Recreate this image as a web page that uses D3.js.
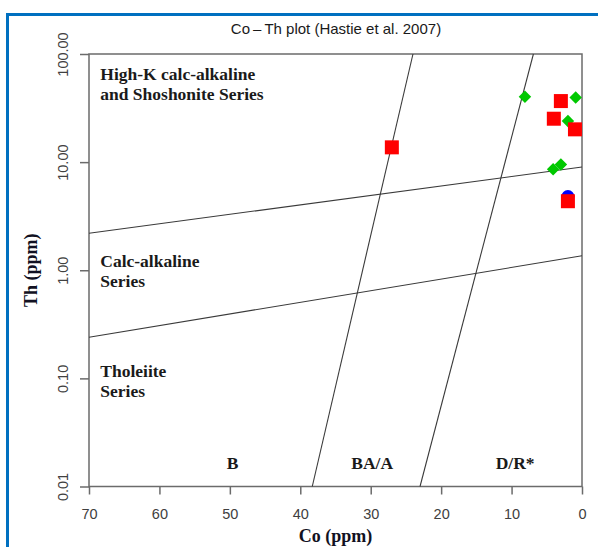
<!DOCTYPE html>
<html>
<head>
<meta charset="utf-8">
<script src="https://cdn.jsdelivr.net/npm/d3@7"></script>
<style>
  html, body { margin: 0; padding: 0; background: #fff; }
  svg { display: block; }
</style>
</head>
<body>
<svg id="chart" width="598" height="547"></svg>
<script>
// Co–Th discrimination diagram (Hastie et al. 2007)

// Axis ticks
const coTicks = [70, 60, 50, 40, 30, 20, 10, 0];
const thTicks = [0.01, 0.1, 1, 10, 100];
const thTickLabels = ["0.01", "0.10", "1.00", "10.00", "100.00"];

// Sample groups (Co ppm, Th ppm)
const redCo = [27.0, 3.0, 4.0, 1.0, 2.0];
const redTh = [13.7, 36.7, 25.2, 20.1, 4.35];
const greenCo = [8.1, 0.9, 2.0, 4.1, 3.0];
const greenTh = [40.2, 39.7, 24.0, 8.6, 9.5];
const blueCo = [2.0];
const blueTh = [4.8];

// Field boundaries as [Co, Th] end points
const seriesBoundaries = [
  [[70, 2.2], [0, 9.0]],     // high-K / calc-alkaline
  [[70, 0.24], [0, 1.36]]    // calc-alkaline / tholeiite
];
const rockBoundaries = [
  [[38.3, 0.01], [24.0, 100]], // B / BA-A
  [[23.0, 0.01], [6.9, 100]]   // BA-A / D-R
];

// Field labels
const seriesLabels = [
  { lines: ["High-K calc-alkaline", "and Shoshonite Series"], co: 68.4, th: 57 },
  { lines: ["Calc-alkaline", "Series"], co: 68.4, th: 1.07 },
  { lines: ["Tholeiite", "Series"], co: 68.4, th: 0.103 }
];
const rockLabels = [
  { text: "B", co: 49.6 },
  { text: "BA/A", co: 29.8 },
  { text: "D/R*", co: 9.5 }
];

(function () {
  const svg = d3.select("#chart");

  // Blue page frame
  svg.append("line").attr("x1", 7.5).attr("x2", 7.5).attr("y1", 13).attr("y2", 547)
    .attr("stroke", "#0070c0").attr("stroke-width", 3);
  svg.append("line").attr("x1", 6).attr("x2", 598).attr("y1", 14.5).attr("y2", 14.5)
    .attr("stroke", "#0070c0").attr("stroke-width", 3);

  const plotLeft = 89, plotRight = 582, plotTop = 54, plotBottom = 486.5;

  const x = d3.scaleLinear().domain([70, 0]).range([plotLeft, plotRight]);
  const y = d3.scaleLog().domain([0.01, 100]).range([plotBottom, plotTop]);

  const axisColor = "#6b6b6b";

  // Plot box
  svg.append("rect")
    .attr("x", plotLeft).attr("y", plotTop)
    .attr("width", plotRight - plotLeft).attr("height", plotBottom - plotTop)
    .attr("fill", "none").attr("stroke", axisColor).attr("stroke-width", 1.5);

  // Bottom axis
  const xAxis = svg.append("g")
    .attr("transform", `translate(0,${plotBottom})`)
    .call(d3.axisBottom(x).tickValues(coTicks).tickSize(8).tickPadding(14).tickFormat(d3.format("d")));
  xAxis.select(".domain").remove();
  xAxis.selectAll(".tick line").attr("stroke", axisColor).attr("stroke-width", 1.5);
  xAxis.selectAll(".tick text")
    .attr("font-family", "'Liberation Sans', Arial, sans-serif")
    .attr("font-size", 14.5).attr("fill", "#404040");

  // Left axis with rotated labels
  const yAxis = svg.append("g")
    .attr("transform", `translate(${plotLeft},0)`)
    .call(d3.axisLeft(y).tickValues(thTicks).tickSize(9)
      .tickFormat((d, i) => thTickLabels[i]));
  yAxis.select(".domain").remove();
  yAxis.selectAll(".tick line").attr("stroke", axisColor).attr("stroke-width", 1.5);
  yAxis.selectAll(".tick text")
    .attr("font-family", "'Liberation Sans', Arial, sans-serif")
    .attr("font-size", 14.5).attr("fill", "#404040")
    .attr("x", null).attr("dy", null)
    .attr("text-anchor", "middle")
    .attr("transform", "translate(-21,0) rotate(-90)");

  // Boundary lines
  const lineGen = d3.line().x(d => x(d[0])).y(d => y(d[1]));
  svg.append("g")
    .selectAll("path")
    .data(seriesBoundaries.concat(rockBoundaries))
    .join("path")
    .attr("d", lineGen)
    .attr("fill", "none").attr("stroke", "#3a3a3a").attr("stroke-width", 1.1);

  // Field labels
  const serif = "'Liberation Serif', 'Times New Roman', serif";
  const labelColor = "#1a1a1a";
  seriesLabels.forEach(l => {
    const t = svg.append("text")
      .attr("x", x(l.co)).attr("y", y(l.th))
      .attr("font-family", serif).attr("font-weight", "bold").attr("font-size", 17.5)
      .attr("fill", labelColor);
    l.lines.forEach((s, i) => {
      t.append("tspan").attr("x", x(l.co)).attr("dy", i === 0 ? 0 : 19.8).text(s);
    });
  });
  svg.append("g").selectAll("text")
    .data(rockLabels).join("text")
    .attr("x", d => x(d.co)).attr("y", 469)
    .attr("text-anchor", "middle")
    .attr("font-family", serif).attr("font-weight", "bold").attr("font-size", 17.5)
    .attr("fill", labelColor)
    .text(d => d.text);

  // Samples
  const zip = (a, b) => a.map((v, i) => [v, b[i]]);
  svg.append("g").selectAll("circle")
    .data(zip(blueCo, blueTh)).join("circle")
    .attr("cx", d => x(d[0])).attr("cy", d => y(d[1])).attr("r", 6.5)
    .attr("fill", "#0000ff");

  const diamond = d3.symbol().type(d3.symbolSquare).size(78);
  svg.append("g").selectAll("path")
    .data(zip(greenCo, greenTh)).join("path")
    .attr("d", diamond)
    .attr("transform", d => `translate(${x(d[0])},${y(d[1])}) rotate(45)`)
    .attr("fill", "#00c800");

  const sq = 14;
  svg.append("g").selectAll("rect")
    .data(zip(redCo, redTh)).join("rect")
    .attr("x", d => x(d[0]) - sq / 2).attr("y", d => y(d[1]) - sq / 2)
    .attr("width", sq).attr("height", sq)
    .attr("fill", "#ff0000");

  // Title and axis titles
  svg.append("text")
    .attr("x", 336).attr("y", 34)
    .attr("text-anchor", "middle")
    .attr("font-family", "'Liberation Sans', Arial, sans-serif").attr("font-size", 15)
    .attr("fill", "#1a1a1a")
    .text("Co\u2009\u2013\u2009Th plot (Hastie et al. 2007)");

  svg.append("text")
    .attr("x", (plotLeft + plotRight) / 2).attr("y", 542)
    .attr("text-anchor", "middle")
    .attr("font-family", serif).attr("font-weight", "bold").attr("font-size", 18)
    .attr("fill", "#111122")
    .text("Co (ppm)");

  svg.append("text")
    .attr("transform", `translate(37,${(plotTop + plotBottom) / 2}) rotate(-90)`)
    .attr("text-anchor", "middle")
    .attr("font-family", serif).attr("font-weight", "bold").attr("font-size", 18)
    .attr("fill", "#111122")
    .text("Th (ppm)");
})();
</script>
</body>
</html>
